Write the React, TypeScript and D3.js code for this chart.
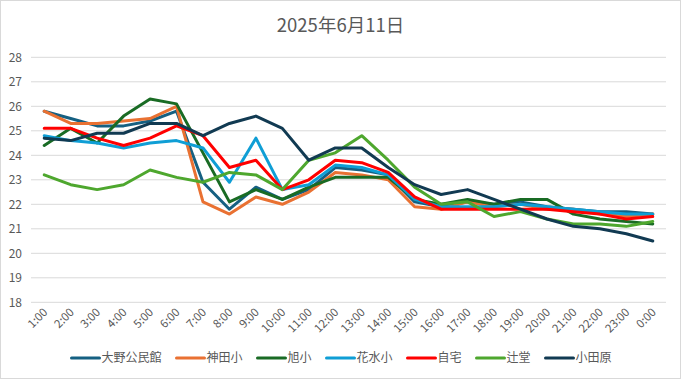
import React from "react";
import * as d3 from "d3";

const title = "2025年6月11日";
const hours = ["1:00","2:00","3:00","4:00","5:00","6:00","7:00","8:00","9:00","10:00","11:00","12:00","13:00","14:00","15:00","16:00","17:00","18:00","19:00","20:00","21:00","22:00","23:00","0:00"];
const yTicks = [18, 19, 20, 21, 22, 23, 24, 25, 26, 27, 28];

const seriesNames = ["大野公民館", "神田小", "旭小", "花水小", "自宅", "辻堂", "小田原"];
const ohno = [25.8, 25.5, 25.2, 25.2, 25.4, 25.8, 22.9, 21.8, 22.7, 22.2, 22.6, 23.5, 23.4, 23.2, 22.1, 21.9, 22.1, 22.0, 22.1, 21.9, 21.8, 21.7, 21.7, 21.6];
const kanda = [25.8, 25.3, 25.3, 25.4, 25.5, 26.0, 22.1, 21.6, 22.3, 22.0, 22.5, 23.3, 23.2, 23.0, 21.9, 21.8, 22.1, 21.9, 22.0, 21.8, 21.8, 21.6, 21.5, 21.6];
const asahi = [24.4, 25.1, 24.5, 25.6, 26.3, 26.1, 24.1, 22.1, 22.6, 22.2, 22.7, 23.1, 23.1, 23.1, 22.2, 22.0, 22.2, 22.0, 22.2, 22.2, 21.6, 21.4, 21.3, 21.2];
const hanamizu = [24.8, 24.6, 24.5, 24.3, 24.5, 24.6, 24.3, 22.9, 24.7, 22.6, 22.8, 23.6, 23.5, 23.2, 22.2, 21.9, 21.9, 21.9, 22.0, 21.9, 21.8, 21.7, 21.6, 21.6];
const jitaku = [25.1, 25.1, 24.7, 24.4, 24.7, 25.2, 24.8, 23.5, 23.8, 22.6, 23.0, 23.8, 23.7, 23.3, 22.3, 21.8, 21.8, 21.8, 21.8, 21.8, 21.7, 21.6, 21.4, 21.5];
const tsujido = [23.2, 22.8, 22.6, 22.8, 23.4, 23.1, 22.9, 23.3, 23.2, 22.6, 23.8, 24.1, 24.8, 23.8, 22.7, 22.0, 22.1, 21.5, 21.7, 21.4, 21.2, 21.2, 21.1, 21.3];
const odawara = [24.7, 24.6, 24.9, 24.9, 25.3, 25.3, 24.8, 25.3, 25.6, 25.1, 23.8, 24.3, 24.3, 23.5, 22.8, 22.4, 22.6, 22.2, 21.8, 21.4, 21.1, 21.0, 20.8, 20.5];
const colors = ["#156082", "#E97132", "#196B24", "#0F9ED5", "#FF0000", "#4EA72E", "#113A52"];

const seriesValues = [ohno, kanda, asahi, hanamizu, jitaku, tsujido, odawara];

const W = 681, H = 379;
const plotL = 31, plotR = 666, plotT = 57.3, plotB = 302.3;
const font = "'Noto Sans CJK JP', 'Noto Sans', sans-serif";
const textColor = "#595959";

export default function App() {
  const x = d3.scaleBand<string>().domain(hours).range([plotL, plotR]);
  const y = d3.scaleLinear().domain([18, 28]).range([plotB, plotT]);
  const line = d3.line<number>()
    .x((_, i) => (x(hours[i]) as number) + x.bandwidth() / 2)
    .y((d) => y(d));

  const legendFont = 12;
  const lineLen = 28;
  const gap = 15;
  const widths = seriesNames.map((n) => lineLen + 2 + n.length * legendFont);
  const total = widths.reduce((a, b) => a + b, 0) + gap * (seriesNames.length - 1);
  let lx = W / 2 - total / 2 + 1;
  const legendItems = seriesNames.map((n, i) => {
    const item = { name: n, x: lx, color: colors[i] };
    lx += widths[i] + gap;
    return item;
  });
  const legendY = 358;

  return (
    <svg width={W} height={H} style={{ position: "absolute", left: 0, top: 0 }} fontFamily={font}>
      <rect x={0.5} y={0.5} width={W - 1} height={H - 1} fill="#fff" stroke="#d9d9d9" />
      <text x={W / 2} y={32} textAnchor="middle" fontSize={18.5} fill={textColor}>{title}</text>
      {yTicks.map((t) => (
        <g key={t}>
          <line x1={plotL} x2={plotR} y1={y(t)} y2={y(t)} stroke="#d9d9d9" strokeWidth={1} />
          <text x={22} y={y(t)} dy="0.35em" textAnchor="end" fontSize={12} fill={textColor}>{t}</text>
        </g>
      ))}
      {hours.map((h) => {
        const cx = (x(h) as number) + x.bandwidth() / 2;
        return (
          <text key={h} transform={`translate(${cx + 4},${313}) rotate(-45)`} textAnchor="end" fontSize={11.5} fill={textColor}>{h}</text>
        );
      })}
      {seriesValues.map((vals, i) => (
        <path key={seriesNames[i]} d={line(vals) || ""} fill="none" stroke={colors[i]} strokeWidth={3} strokeLinejoin="round" strokeLinecap="round" />
      ))}
      {legendItems.map((it) => (
        <g key={it.name}>
          <line x1={it.x} x2={it.x + lineLen} y1={legendY} y2={legendY} stroke={it.color} strokeWidth={3} strokeLinecap="round" />
          <text x={it.x + lineLen + 2} y={legendY} dy="0.35em" fontSize={legendFont} fill={textColor}>{it.name}</text>
        </g>
      ))}
    </svg>
  );
}
